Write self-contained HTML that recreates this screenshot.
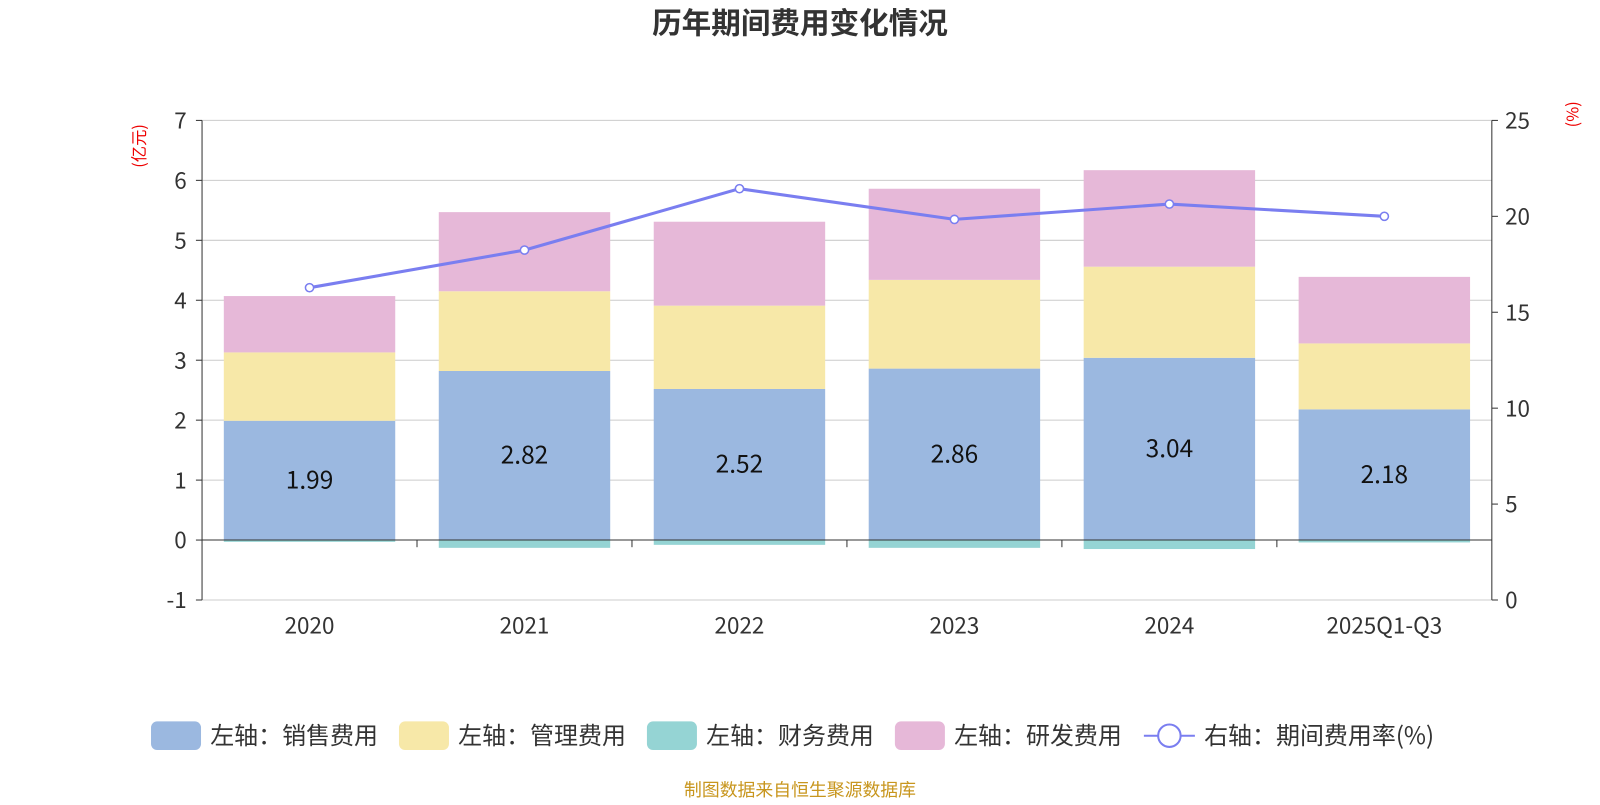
<!DOCTYPE html>
<html><head><meta charset="utf-8"><style>
body{margin:0;background:#fff;}
svg text{font-family:"Noto Sans CJK SC","Liberation Sans",sans-serif;}
</style></head><body>
<svg id="c" width="1600" height="800" viewBox="0 0 1568 784" preserveAspectRatio="none" xmlns="http://www.w3.org/2000/svg">
<text x="784" y="33" text-anchor="middle" font-size="29" font-weight="bold" fill="#333">历年期间费用变化情况</text>
<g id="grid"></g><g id="bars"></g><g id="axes"></g><g id="line"></g>
<text transform="translate(142,143) rotate(-90)" text-anchor="middle" font-size="16" fill="#e00">(亿元)</text>
<text transform="translate(1547,112) rotate(-90)" text-anchor="middle" font-size="16" fill="#e00">(%)</text>
<g id="legend"></g>
<text x="784" y="780" text-anchor="middle" font-size="17.5" fill="#c8961e">制图数据来自恒生聚源数据库</text>
</svg>
<script>
const categories=["2020","2021","2022","2023","2024","2025Q1-Q3"];
const sales=[1.99,2.82,2.52,2.86,3.04,2.18];
const admin=[1.14,1.33,1.39,1.48,1.52,1.10];
const finance=[-0.03,-0.13,-0.08,-0.13,-0.15,-0.04];
const rnd=[0.94,1.32,1.40,1.52,1.61,1.11];
const rate=[16.28,18.24,21.44,19.84,20.64,20.0];
const leftTicks=[-1,0,1,2,3,4,5,6,7];
const rightTicks=[0,5,10,15,20,25];
const NS="http://www.w3.org/2000/svg";
const L=198,R=1462,T=118,B=588;
const yL=v=>T+(7-v)*(B-T)/8;
const yR=v=>B-v*(B-T)/25;
const bw=(R-L)/categories.length;
const xC=i=>L+bw*(i+0.5);
function mk(p,tag,a,txt){const e=document.createElementNS(NS,tag);for(const k in a)e.setAttribute(k,a[k]);if(txt!==undefined)e.textContent=txt;document.getElementById(p).appendChild(e);return e;}
leftTicks.forEach(v=>{
 let g=mk('grid','line',{x1:L,x2:R,y1:yL(v),y2:yL(v),stroke:'#ccc','stroke-width':1});
 
 
 let t=mk('axes','text',{x:183,y:yL(v)+8,'text-anchor':'end','font-size':22,fill:'#333'},String(v));
 
 
});
rightTicks.forEach(v=>{
 let t=mk('axes','text',{x:1475,y:yR(v)+8,'font-size':22,fill:'#333'},String(v));
 
 
 mk('axes','line',{x1:R,x2:R+6,y1:yR(v),y2:yR(v),stroke:'#333'});
});
leftTicks.forEach(v=>mk('axes','line',{x1:L-6,x2:L,y1:yL(v),y2:yL(v),stroke:'#333'}));
mk('axes','line',{x1:L,x2:L,y1:T,y2:B,stroke:'#333'});
mk('axes','line',{x1:R,x2:R,y1:T,y2:B,stroke:'#333'});
mk('axes','line',{x1:L,x2:R,y1:yL(0),y2:yL(0),stroke:'#333'});
for(let i=1;i<categories.length;i++)mk('axes','line',{x1:L+bw*i,x2:L+bw*i,y1:yL(0),y2:yL(0)+7,stroke:'#333'});
const W=168;
categories.forEach((c,i)=>{
 const x=xC(i)-W/2;
 const segs=[[0,sales[i],'#9bb8e0','bar-sales'],[sales[i],sales[i]+admin[i],'#f7e8a8','bar-admin'],[sales[i]+admin[i],sales[i]+admin[i]+rnd[i],'#e6b8d8','bar-rnd'],[finance[i],0,'#95d4d4','bar-finance']];
 segs.forEach(s=>{
  let r=mk('bars','rect',{x:x,y:yL(Math.max(s[0],s[1])),width:W,height:Math.abs(yL(s[0])-yL(s[1])),fill:s[2]});
  
  
 });
 let lb=mk('bars','text',{x:xC(i),y:yL(sales[i]/2)+8,'text-anchor':'middle','font-size':24,fill:'#111'},sales[i].toFixed(2));
 
 
 let xl=mk('axes','text',{x:xC(i),y:621,'text-anchor':'middle','font-size':22,fill:'#333'},c);
 
 
});
let pl=mk('line','polyline',{points:rate.map((v,i)=>xC(i)+','+yR(v)).join(' '),fill:'none',stroke:'#7a7ef0','stroke-width':3});


rate.forEach((v,i)=>{
 let p=mk('line','circle',{cx:xC(i),cy:yR(v),r:4,fill:'#fff',stroke:'#7a7ef0','stroke-width':1.5});
 
 
});
const leg=[['左轴：销售费用','#9bb8e0',148],['左轴：管理费用','#f7e8a8',391],['左轴：财务费用','#95d4d4',634],['左轴：研发费用','#e6b8d8',877]];
leg.forEach(l=>{
 let g=mk('legend','g',{});
 
 
 const r=document.createElementNS(NS,'rect');
 r.setAttribute('x',l[2]);r.setAttribute('y',707);r.setAttribute('width',49);r.setAttribute('height',28);r.setAttribute('rx',6);r.setAttribute('fill',l[1]);g.appendChild(r);
 const t=document.createElementNS(NS,'text');
 t.setAttribute('x',l[2]+58);t.setAttribute('y',729);t.setAttribute('font-size',23.5);t.setAttribute('fill','#333');t.textContent=l[0];g.appendChild(t);
});
let lg=mk('legend','g',{});


lg.innerHTML='<line x1="1121" x2="1171" y1="721" y2="721" stroke="#7a7ef0" stroke-width="2"/><circle cx="1146" cy="721" r="11" fill="#fff" stroke="#7a7ef0" stroke-width="2"/><text x="1180" y="729" font-size="23.5" fill="#333">右轴：期间费用率(%)</text>';
</script>
</body></html>
